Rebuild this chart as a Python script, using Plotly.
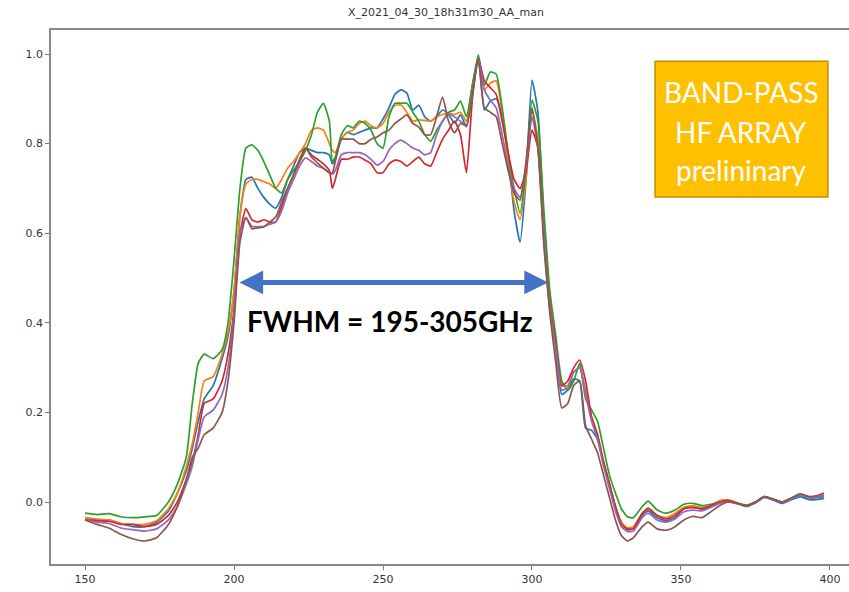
import plotly.graph_objects as go

# Frequency grid (GHz)
freq = [150,154,158,162,166,170,174,
        178,181,184,186,188,190,193,196,198,200,202,
        204,206,208,210,212,214,216,218,220,222,224,226,228,230,232,
        233,
        234,236,238,240,242,244,246,248,250,252,254,256,258,260,262,264,266,268,270,
        272,274,276,278,280,282,284,286,288,290,292,294,296,298,300,
        302,304,306,308,310,312,314,316,318,320,322,324,326,328,330,332,334,
        337,339,342,345,348,351,354,357,360,363,366,369,372,375,378,381,384,387,390,393,396,398]

s_blue = [-0.035,-0.04,-0.04,-0.048,-0.055,-0.055,-0.045,
          -0.02,0.02,0.07,0.12,0.18,0.23,0.26,0.32,0.37,0.47,0.64,
          0.72,0.725,0.70,0.68,0.665,0.656,0.68,0.72,0.75,0.78,0.79,0.785,0.78,0.78,0.775,
          0.755,
          0.765,0.81,0.825,0.82,0.825,0.83,0.835,0.835,0.855,0.88,0.91,0.92,0.913,0.875,0.886,0.86,0.85,0.86,0.875,
          0.865,0.846,0.864,0.837,0.93,0.99,0.875,0.895,0.90,0.86,0.77,0.65,0.58,0.72,0.942,
          0.87,0.62,0.44,0.34,0.24,0.25,0.275,0.27,0.165,0.16,0.14,0.09,0.04,-0.01,-0.045,-0.062,-0.06,
          -0.03,-0.02,-0.035,-0.042,-0.035,-0.015,-0.012,-0.016,-0.01,0.0,0.0,-0.004,-0.01,-0.002,0.01,0.004,-0.003,0.005,0.012,0.005,0.006,0.008]

s_orange = [-0.035,-0.038,-0.04,-0.048,-0.05,-0.05,-0.042,
            -0.015,0.02,0.08,0.13,0.20,0.27,0.28,0.33,0.38,0.47,0.64,
            0.71,0.72,0.72,0.715,0.71,0.70,0.72,0.745,0.76,0.78,0.80,0.83,0.835,0.83,0.80,
            0.785,
            0.78,0.81,0.825,0.83,0.845,0.85,0.84,0.835,0.845,0.87,0.885,0.886,0.87,0.85,0.853,0.852,0.85,0.86,0.865,
            0.868,0.865,0.87,0.85,0.93,0.99,0.92,0.935,0.94,0.87,0.76,0.67,0.63,0.72,0.875,
            0.81,0.60,0.44,0.35,0.26,0.26,0.29,0.30,0.25,0.19,0.15,0.09,0.04,-0.01,-0.045,-0.058,-0.055,
            -0.025,-0.013,-0.03,-0.035,-0.025,-0.012,-0.008,-0.012,-0.008,0.003,0.005,-0.002,-0.007,0.0,0.012,0.006,0.0,0.008,0.017,0.01,0.012,0.015]

s_green = [-0.025,-0.028,-0.026,-0.033,-0.035,-0.033,-0.03,
           0.0,0.04,0.10,0.22,0.31,0.33,0.32,0.34,0.40,0.54,0.70,
           0.79,0.797,0.785,0.76,0.73,0.70,0.69,0.72,0.74,0.76,0.785,0.82,0.87,0.89,0.85,
           0.76,
           0.77,0.82,0.84,0.835,0.85,0.845,0.83,0.80,0.79,0.86,0.89,0.89,0.89,0.87,0.85,0.82,0.805,0.83,0.85,
           0.87,0.875,0.895,0.86,0.93,0.998,0.93,0.96,0.955,0.88,0.78,0.70,0.645,0.74,0.897,
           0.85,0.65,0.47,0.37,0.27,0.25,0.27,0.31,0.23,0.205,0.18,0.12,0.06,0.02,-0.015,-0.033,-0.035,
           -0.01,0.002,-0.018,-0.025,-0.018,-0.005,-0.003,-0.008,-0.005,0.0,0.002,-0.003,-0.008,0.0,0.012,0.006,0.0,0.008,0.017,0.01,0.01,0.012]

s_red = [-0.04,-0.042,-0.043,-0.05,-0.05,-0.055,-0.05,
         -0.03,0.0,0.05,0.09,0.15,0.22,0.23,0.27,0.33,0.43,0.60,
         0.655,0.63,0.625,0.63,0.625,0.625,0.66,0.70,0.73,0.76,0.79,0.775,0.765,0.755,0.74,
         0.70,
         0.72,0.765,0.765,0.77,0.77,0.763,0.755,0.735,0.735,0.755,0.763,0.76,0.75,0.76,0.77,0.755,0.75,0.78,0.81,
         0.83,0.85,0.82,0.735,0.90,0.99,0.94,0.925,0.91,0.85,0.78,0.72,0.70,0.74,0.83,
         0.79,0.59,0.44,0.35,0.26,0.27,0.30,0.317,0.27,0.19,0.15,0.09,0.04,-0.01,-0.05,-0.06,-0.06,
         -0.025,-0.015,-0.03,-0.038,-0.03,-0.015,-0.012,-0.015,-0.008,0.0,0.003,-0.003,-0.008,0.0,0.012,0.006,0.0,0.008,0.017,0.01,0.012,0.015]

s_purple = [-0.04,-0.045,-0.048,-0.058,-0.062,-0.065,-0.06,
            -0.04,-0.01,0.04,0.08,0.14,0.19,0.205,0.24,0.30,0.42,0.60,
            0.635,0.615,0.615,0.615,0.62,0.625,0.65,0.69,0.72,0.75,0.768,0.76,0.75,0.745,0.735,
            0.732,
            0.74,0.775,0.78,0.78,0.78,0.775,0.765,0.752,0.76,0.785,0.80,0.808,0.80,0.79,0.785,0.775,0.78,0.82,0.85,
            0.865,0.86,0.85,0.84,0.91,0.99,0.92,0.897,0.88,0.82,0.75,0.70,0.68,0.75,0.86,
            0.79,0.59,0.43,0.34,0.25,0.255,0.29,0.30,0.24,0.18,0.14,0.08,0.03,-0.02,-0.055,-0.066,-0.065,
            -0.035,-0.025,-0.04,-0.045,-0.038,-0.022,-0.018,-0.02,-0.012,-0.003,0.0,-0.004,-0.009,-0.001,0.011,0.005,-0.001,0.007,0.016,0.009,0.011,0.014]

s_brown = [-0.04,-0.05,-0.058,-0.072,-0.082,-0.087,-0.08,
           -0.05,-0.01,0.05,0.10,0.12,0.15,0.165,0.20,0.27,0.40,0.58,
           0.635,0.61,0.612,0.614,0.625,0.636,0.67,0.70,0.73,0.765,0.79,0.77,0.757,0.745,0.735,
           0.734,
           0.76,0.81,0.81,0.81,0.80,0.80,0.81,0.815,0.824,0.83,0.845,0.855,0.864,0.845,0.837,0.82,0.82,0.86,0.904,
           0.85,0.824,0.845,0.84,0.91,0.99,0.88,0.87,0.86,0.80,0.74,0.69,0.674,0.76,0.88,
           0.79,0.57,0.42,0.31,0.21,0.22,0.26,0.27,0.17,0.14,0.11,0.06,0.01,-0.04,-0.075,-0.087,-0.08,
           -0.055,-0.045,-0.06,-0.063,-0.055,-0.04,-0.032,-0.035,-0.022,-0.008,0.0,-0.003,-0.008,0.0,0.012,0.006,0.0,0.009,0.018,0.012,0.015,0.02]

series = [s_blue, s_orange, s_green, s_red, s_purple, s_brown]
colors = ["#1f77b4", "#ff7f0e", "#2ca02c", "#d62728", "#9467bd", "#8c564b"]
for s in series:
    assert len(s) == len(freq), (len(s), len(freq))

title = "X_2021_04_30_18h31m30_AA_man"
x_ticks = [150, 200, 250, 300, 350, 400]
y_ticks = [0.0, 0.2, 0.4, 0.6, 0.8, 1.0]
y_labels = ["0.0", "0.2", "0.4", "0.6", "0.8", "1.0"]
fwhm_lo, fwhm_hi, fwhm_level = 201.3, 305.4, 0.49
fwhm_text = "FWHM = 195-305GHz"
box_lines = ["BAND-PASS", "HF ARRAY", "prelininary"]
box_line_y = [0.915, 0.826, 0.740]

fig = go.Figure()
for s, c in zip(series, colors):
    fig.add_trace(go.Scatter(x=freq, y=s, mode="lines",
                             line=dict(color=c, width=1.7, shape="spline", smoothing=0.5),
                             showlegend=False))

# double-headed FWHM arrow
fig.add_annotation(x=fwhm_hi, y=fwhm_level, ax=fwhm_lo, ay=fwhm_level,
                   xref="x", yref="y", axref="x", ayref="y", text="",
                   showarrow=True, arrowhead=2, arrowside="end+start",
                   arrowsize=0.95, arrowwidth=5, arrowcolor="#4472C4",
                   standoff=0, startstandoff=0)
fig.add_annotation(x=252.3, y=0.404, xref="x", yref="y", text="<b>" + fwhm_text + "</b>",
                   showarrow=False, font=dict(family="Lato", size=28, color="#000000"))

# orange box
fig.add_shape(type="rect", xref="x", yref="y", x0=341.3, x1=399.3, y0=0.681, y1=0.984,
              fillcolor="#FFC000", line=dict(color="#BF9000", width=1.5), layer="above")
for txt, yy in zip(box_lines, box_line_y):
    fig.add_annotation(x=370.3, y=yy, xref="x", yref="y", text=txt,
                       showarrow=False, font=dict(family="Lato", size=28, color="#FFFFFF"))

axis_font = dict(family="DejaVu Sans", size=11, color="#333333")
fig.update_layout(
    width=849, height=592,
    margin=dict(l=51, r=0, t=30, b=28),
    paper_bgcolor="white", plot_bgcolor="white",
    title=dict(text=title, x=446/849, xanchor="center", y=1 - 12/592, yanchor="middle",
               font=dict(family="DejaVu Sans", size=11, color="#333333")),
    xaxis=dict(range=[138.59, 406.38], tickvals=x_ticks, ticks="outside", ticklen=4,
               tickcolor="#777777", showgrid=False, zeroline=False, showline=True,
               linecolor="#888888", linewidth=1.5, mirror=True, tickfont=axis_font),
    yaxis=dict(range=[-0.1384, 1.0536], tickvals=y_ticks, ticktext=y_labels, ticks="outside",
               ticklen=4, tickcolor="#777777", showgrid=False, zeroline=False, showline=True,
               linecolor="#888888", linewidth=1.5, mirror=False, tickfont=axis_font),
)

fig.write_html("out.html")
